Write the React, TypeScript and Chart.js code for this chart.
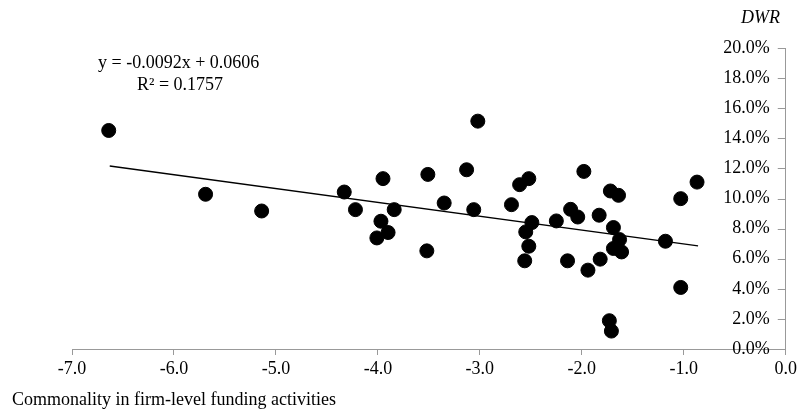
import React, { useEffect, useRef } from "react";
import { Chart, registerables } from "chart.js";

Chart.register(...registerables);

const xValues = [
  -6.64, -5.69, -5.14,
  -4.33, -4.22, -3.95, -3.84, -3.97, -3.90, -4.01, -3.51, -3.52, -3.35, -3.13, -3.06, -3.02,
  -2.69, -2.61, -2.52, -2.49, -2.55, -2.52, -2.56, -2.25, -2.11, -2.04, -2.14, -1.98, -1.94,
  -1.83, -1.82, -1.72, -1.64, -1.69, -1.63, -1.69, -1.61, -1.18, -1.03, -0.87, -1.03,
  -1.73, -1.71,
];
const yValues = [
  0.1452, 0.1028, 0.0917,
  0.1043, 0.0926, 0.1132, 0.0926, 0.0849, 0.0774, 0.0738, 0.1160, 0.0652, 0.0970, 0.1191, 0.0926, 0.1514,
  0.0959, 0.1092, 0.1132, 0.0840, 0.0778, 0.0683, 0.0586, 0.0851, 0.0928, 0.0877, 0.0586, 0.1180, 0.0524,
  0.0889, 0.0597, 0.1050, 0.1021, 0.0807, 0.0727, 0.0668, 0.0645, 0.0716, 0.0999, 0.1109, 0.0409,
  0.0188, 0.0119,
];
const trendX = [-6.63, -0.86];
const trendY = [0.1216, 0.0685];
const xTicks = [-7, -6, -5, -4, -3, -2, -1, 0];
const equationText = "y = -0.0092x + 0.0606";
const r2Text = "R\u00B2 = 0.1757";
const yAxisLabel = "DWR";
const xAxisLabel = "Commonality in firm-level funding activities";

const FONT = "'Liberation Serif', 'Times New Roman', serif";
const AXIS = "#999999";

export default function App() {
  const ref = useRef<HTMLCanvasElement | null>(null);
  useEffect(() => {
    if (!ref.current) return;
    const textPlugin = {
      id: "texts",
      afterDraw(chart: any) {
        const ctx = chart.ctx;
        const ys = chart.scales.y;
        ctx.save();
        ctx.strokeStyle = AXIS;
        ctx.lineWidth = 1;
        ys.ticks.forEach((t: any) => {
          const py = Math.round(ys.getPixelForValue(t.value)) + 0.5;
          ctx.beginPath();
          ctx.moveTo(ys.left - 8, py);
          ctx.lineTo(ys.left, py);
          ctx.stroke();
        });
        ctx.fillStyle = "#000";
        ctx.font = `18px ${FONT}`;
        ctx.textBaseline = "middle";
        ctx.textAlign = "left";
        ctx.fillText(equationText, 98, 63);
        ctx.fillText(r2Text, 137, 85);
        ctx.fillText(xAxisLabel, 12, 400);
        ctx.font = `italic 18px ${FONT}`;
        ctx.textAlign = "right";
        ctx.fillText(yAxisLabel, 780, 18);
        ctx.restore();
      },
    };
    const chart = new Chart(ref.current, {
      type: "scatter",
      data: {
        datasets: [
          {
            data: xValues.map((x, i) => ({ x, y: yValues[i] })),
            backgroundColor: "#000",
            borderColor: "#000",
            pointRadius: 7,
            pointHoverRadius: 7,
            order: 1,
          },
          {
            type: "line",
            data: trendX.map((x, i) => ({ x, y: trendY[i] })),
            borderColor: "#000",
            borderWidth: 1.3,
            pointRadius: 0,
            showLine: true,
            order: 2,
          } as any,
        ],
      },
      options: {
        animation: false,
        responsive: false,
        layout: { padding: { left: 72, top: 48, right: 0, bottom: 0 } },
        plugins: { legend: { display: false }, tooltip: { enabled: false } },
        scales: {
          x: {
            type: "linear",
            min: -7,
            max: 0,
            afterBuildTicks: (s: any) => {
              s.ticks = xTicks.map((v) => ({ value: v }));
            },
            afterFit: (s: any) => {
              s.height = 67;
            },
            border: { color: AXIS, width: 1 },
            grid: { drawOnChartArea: false, drawTicks: true, tickLength: 6, color: AXIS },
            ticks: {
              padding: 3,
              color: "#000",
              font: { family: FONT, size: 18 },
              callback: (v: any) => Number(v).toFixed(1),
              maxRotation: 0,
              autoSkip: false,
            },
          },
          y: {
            type: "linear",
            position: "right",
            min: 0,
            max: 0.2,
            afterFit: (s: any) => {
              s.width = 9;
            },
            border: { color: AXIS, width: 1 },
            grid: { display: false },
            ticks: {
              stepSize: 0.02,
              mirror: true,
              padding: -16,
              color: "#000",
              font: { family: FONT, size: 18 },
              callback: (v: any) => (Number(v) * 100).toFixed(1) + "%",
            },
          },
        },
      },
      plugins: [textPlugin],
    });
    return () => chart.destroy();
  }, []);
  return (
    <div style={{ position: "absolute", left: 0, top: 0, width: 800, height: 416, background: "#fff" }}>
      <canvas ref={ref} width={800} height={416} />
    </div>
  );
}
